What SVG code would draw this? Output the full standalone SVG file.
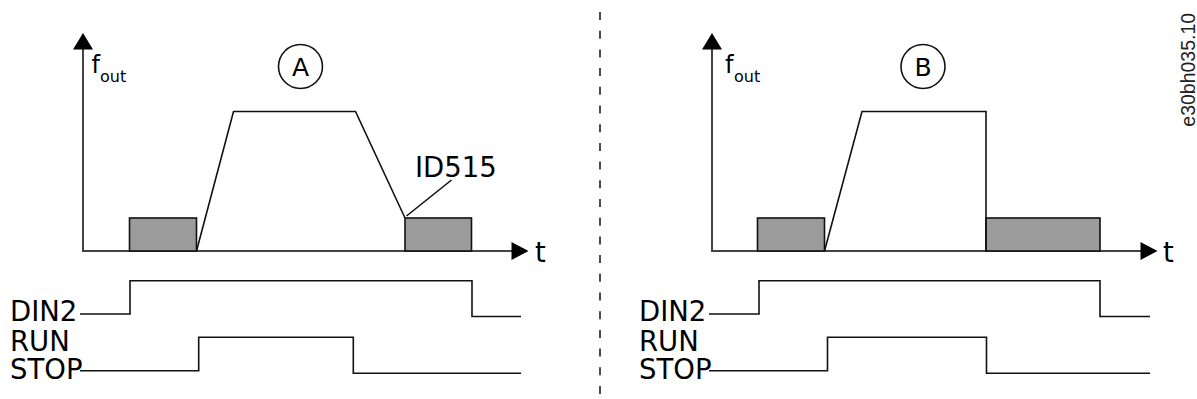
<svg xmlns="http://www.w3.org/2000/svg" width="1197" height="399" viewBox="0 0 1197 399">
  <style>
    .txt { font-family: "DejaVu Sans", Verdana, sans-serif; fill: #000; }
    .lbl { font-size: 27.5px; }
    .axis { stroke: #444; stroke-width: 2; fill: none; }
    .arr { fill: #000; stroke: none; }
    .sig { stroke: #111; stroke-width: 1.6; fill: none; stroke-linejoin: miter; }
    .box { fill: #9a9b9a; stroke: #111; stroke-width: 1.6; }
    .circ { fill: none; stroke: #111; stroke-width: 1.6; }
    .sub { font-size: 16px; }
    .f { font-size: 24px; }
    .cl { font-size: 25px; }
  </style>
  <rect width="1197" height="399" fill="#fff"/>

  <g id="divider">
    <line x1="600" y1="12" x2="600" y2="399" stroke="#111" stroke-width="1.5" stroke-dasharray="8 10.7"/>
  </g>

  <g id="panelA">
    <g id="panelA-axes">
      <line class="axis" x1="83" y1="48" x2="83" y2="251"/>
      <polygon class="arr" points="83,33 73,49.5 93,49.5"/>
      <line class="axis" x1="82" y1="251" x2="513" y2="251"/>
      <polygon class="arr" points="528.5,251 511.5,242 511.5,260"/>
      <text class="txt f" x="91.5" y="73">f</text>
      <text class="txt sub" x="100" y="82">out</text>
      <text class="txt lbl" x="535" y="262">t</text>
    </g>
    <g id="panelA-label">
      <circle class="circ" cx="300.5" cy="66.5" r="22"/>
      <text class="txt cl" x="300.5" y="75.5" text-anchor="middle">A</text>
    </g>
    <g id="panelA-freq">
      <rect class="box" x="129.5" y="218" width="67" height="33"/>
      <rect class="box" x="405" y="218" width="66.5" height="33"/>
      <polyline class="sig" points="196.5,251 233.5,111.5 355.5,111.5 405,218"/>
    </g>
    <g id="panelA-id515">
      <line class="sig" x1="406.5" y1="216" x2="451.5" y2="180"/>
      <text class="txt lbl" x="415" y="177">ID515</text>
    </g>
    <g id="panelA-signals">
      <text class="txt lbl" x="10" y="321">DIN2</text>
      <polyline class="sig" points="80,314 130,314 130,280.7 472,280.7 472,316.5 521,316.5"/>
      <text class="txt lbl" x="10" y="350.7">RUN</text>
      <text class="txt lbl" x="10" y="379">STOP</text>
      <polyline class="sig" points="80,370.7 198.7,370.7 198.7,337.3 353.3,337.3 353.3,373.3 521,373.3"/>
    </g>
  </g>

  <g id="panelB">
    <g id="panelB-axes">
      <line class="axis" x1="712" y1="48" x2="712" y2="251"/>
      <polygon class="arr" points="712,33 702,49.5 722,49.5"/>
      <line class="axis" x1="711" y1="251" x2="1142" y2="251"/>
      <polygon class="arr" points="1157.5,251 1140.5,242 1140.5,260"/>
      <text class="txt f" x="725" y="73">f</text>
      <text class="txt sub" x="734" y="82">out</text>
      <text class="txt lbl" x="1163" y="262">t</text>
    </g>
    <g id="panelB-label">
      <circle class="circ" cx="923" cy="66.5" r="22"/>
      <text class="txt cl" x="923" y="75.5" text-anchor="middle">B</text>
    </g>
    <g id="panelB-freq">
      <rect class="box" x="757.5" y="218" width="67" height="33"/>
      <rect class="box" x="986" y="218" width="114" height="33"/>
      <polyline class="sig" points="824.5,251 862,111.5 986,111.5 986,251"/>
    </g>
    <g id="panelB-signals">
      <text class="txt lbl" x="639" y="321">DIN2</text>
      <polyline class="sig" points="709,314 759,314 759,280.7 1100,280.7 1100,316.5 1150,316.5"/>
      <text class="txt lbl" x="639" y="350.7">RUN</text>
      <text class="txt lbl" x="639" y="379">STOP</text>
      <polyline class="sig" points="709,370.7 827.5,370.7 827.5,337.3 986.5,337.3 986.5,373.3 1150,373.3"/>
    </g>
  </g>

  <g id="code">
    <text transform="translate(1195,126.7) rotate(-90)" font-family="'Liberation Sans', Arial, sans-serif" font-size="19.5" fill="#222">e30bh035.10</text>
  </g>
</svg>
